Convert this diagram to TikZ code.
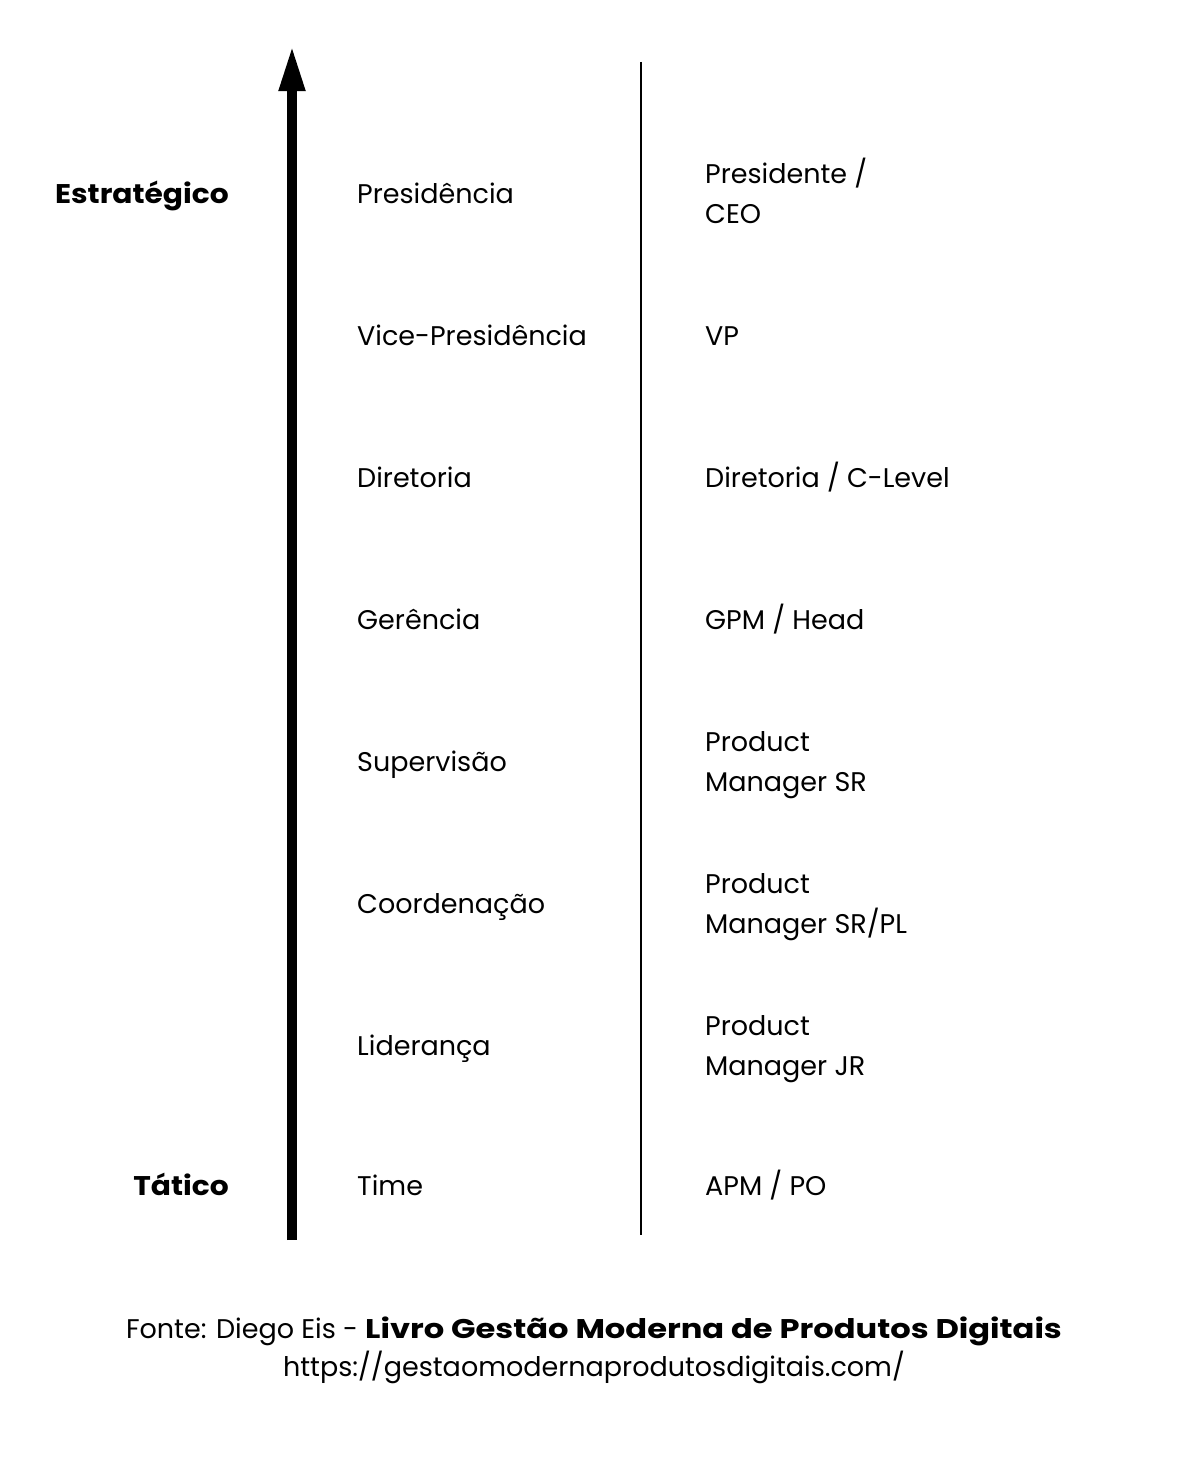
\documentclass[tikz,border=0pt]{standalone}
\usepackage{fontspec}
\setmainfont{Poppins}
\newfontfamily\sidefont{Poppins}[FakeStretch=1.1]
\newfontfamily\footbold{Poppins}[FakeStretch=1.19]
\usetikzlibrary{arrows.meta}
\begin{document}
\begin{tikzpicture}[x=1pt,y=-1pt,
  lvl/.style={anchor=base west,inner sep=0pt,font=\fontsize{27}{40}\selectfont},
  role/.style={anchor=base west,inner sep=0pt,align=left,font=\fontsize{27}{40}\selectfont},
  side/.style={anchor=base east,inner sep=0pt,font=\fontsize{27}{40}\sidefont\bfseries},
  foot/.style={anchor=base,inner sep=0pt,font=\fontsize{27}{38}\selectfont}]
\useasboundingbox (0,0) rectangle (1186,1480);
% axis arrow and divider
\coordinate (abot) at (292,1240);
\coordinate (atop) at (292,45);
\draw[line width=10pt,-{Triangle[length=46pt,width=24pt]}] (abot) -- (atop);
\coordinate (dtop) at (641,62);
\coordinate (dbot) at (641,1235);
\draw[line width=2pt] (dtop) -- (dbot);
% side labels
\node[side] (est) at (229,203) {Estratégico};
\node[side] (tat) at (229,1195) {Tático};
% levels
\node[lvl] (l1) at (357,203) {Presidência};
\node[lvl] (l2) at (357,345) {Vice-Presidência};
\node[lvl] (l3) at (357,487) {Diretoria};
\node[lvl] (l4) at (357,629) {Gerência};
\node[lvl] (l5) at (357,771) {Supervisão};
\node[lvl] (l6) at (357,913) {Coordenação};
\node[lvl] (l7) at (357,1055) {Liderança};
\node[lvl] (l8) at (357,1195) {Time};
% roles
\node[role] (r1) at (705,223) {Presidente /\\CEO};
\node[role] (r2) at (705,345) {VP};
\node[role] (r3) at (705,487) {Diretoria / C-Level};
\node[role] (r4) at (705,629) {GPM / Head};
\node[role] (r5) at (705,791) {Product\\Manager SR};
\node[role] (r6) at (705,933) {Product\\Manager SR/PL};
\node[role] (r7) at (705,1075) {Product\\Manager JR};
\node[role] (r8) at (705,1195) {APM / PO};
% source
\node[foot] (src) at (594,1338) {Fonte: Diego Eis - {\footbold\bfseries Livro Gestão Moderna de Produtos Digitais}};
\node[foot] (url) at (594,1376) {https://gestaomodernaprodutosdigitais.com/};
\end{tikzpicture}
\end{document}
